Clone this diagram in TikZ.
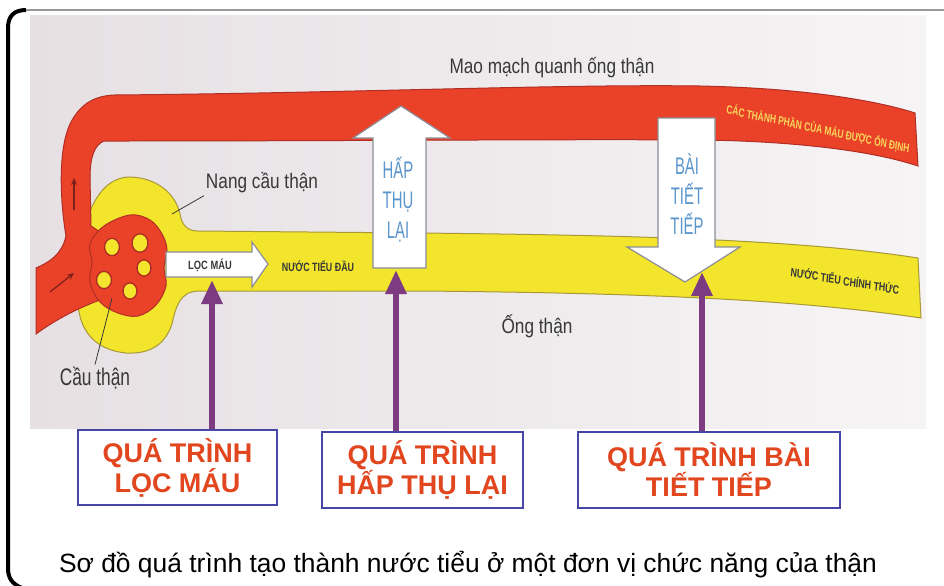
\documentclass[tikz,border=0pt]{standalone}
\usepackage{fontspec}
\setmainfont{Liberation Sans}
\usetikzlibrary{arrows.meta}

\definecolor{blood}{HTML}{EA4229}
\definecolor{bloodline}{HTML}{B02E26}
\definecolor{urine}{HTML}{F2E52C}
\definecolor{urineline}{HTML}{A8983A}
\definecolor{paper}{HTML}{E6E0E3}
\definecolor{paperlight}{HTML}{F6F4F5}
\definecolor{procred}{HTML}{E2461F}
\definecolor{procframe}{HTML}{4646A6}
\definecolor{tractpurple}{HTML}{7D3B82}
\definecolor{skyink}{HTML}{5A95CC}
\definecolor{labelink}{HTML}{383838}
\definecolor{bandtext}{HTML}{F7D55A}
\definecolor{arrowedge}{HTML}{8C8C98}

\tikzset{
  font=\fontsize{10.5}{12.5}\selectfont,
  %
  procbox/.style={
    draw=procframe, line width=1pt, fill=white, align=center, text=procred,
    font=\bfseries\fontsize{13.5}{15}\selectfont, inner sep=0pt,
  },
  lbl/.style={text=labelink, inner sep=1pt, xscale=.82},
  caps/.style={font=\bfseries\fontsize{6}{7}\selectfont, text=labelink,
               inner sep=1pt, xscale=.74},
  skytxt/.style={font=\fontsize{12}{15}\selectfont, text=skyink,
                 align=center, inner sep=0pt, xscale=.62},
  %
  vessel/.style={fill=blood, draw=bloodline, line width=.5pt},
  tubule/.style={fill=urine, draw=urineline, line width=.5pt},
  bigarrow/.style={fill=white, draw=arrowedge, line width=.6pt},
  tract/.style={draw=tractpurple, line width=3pt,
                -{Triangle[length=12pt, width=10pt]}},
  leader/.style={draw=labelink, line width=.4pt},
  flowmark/.style={draw=bloodline!70!black, line width=.6pt,
                   -{Stealth[length=3.5pt, width=3pt]}},
}

\begin{document}
\begin{tikzpicture}[x=0.5pt, y=-0.5pt]
\useasboundingbox (0,0) rectangle (944,585);

% --- page and photo background
\fill[white] (0,0) rectangle (944,585);
\shade[left color=paper, right color=paperlight] (30,15) rectangle (926,428);
\draw[gray!80, line width=1pt] (944,10) -- (26,10);
\draw[black, line width=2pt] (26,10) .. controls (14,10) and (8,16) .. (8,28)
  -- (8,568) .. controls (8,578) and (12,584) .. (22,588);

% --- nephron: capsule + tubule
\path[tubule] (128,177) .. controls (158,177) and (176,195) .. (180,214)
  .. controls (182,226) and (188,231) .. (198,231)
  -- (420,233)
  .. controls (600,235) and (790,238) .. (918,258)
  -- (921,318)
  .. controls (800,300) and (650,293) .. (420,291)
  -- (198,291)
  .. controls (180,292) and (176,306) .. (172,324)
  .. controls (164,348) and (146,354) .. (126,353)
  .. controls (96,350) and (80,332) .. (78,304)
  .. controls (76,250) and (86,180) .. (128,177) -- cycle;

% --- afferent, efferent and peritubular capillary
\path[vessel] (36,334) -- (36,268)
  .. controls (50,262) and (62,254) .. (66,236)
  .. controls (60,200) and (58,150) .. (70,124)
  .. controls (80,104) and (94,96) .. (114,95)
  .. controls (350,93) and (560,84) .. (700,86)
  .. controls (800,88) and (875,100) .. (915,113)
  -- (918,166)
  .. controls (870,150) and (790,141) .. (700,140)
  .. controls (560,139) and (350,141) .. (104,141)
  .. controls (94,145) and (90,158) .. (90,178)
  -- (91,226) -- (112,240) -- (100,300)
  .. controls (78,308) and (55,320) .. (36,334) -- cycle;

% --- glomerulus
\path[vessel] plot[smooth cycle, tension=.6] coordinates {
  (130,215) (150,220) (162,234) (167,250) (164,268) (166,286)
  (156,305) (138,316) (118,313) (100,302) (90,282) (92,262)
  (90,244) (104,226)};
\foreach \gx/\gy/\gr in {112/247/7.5, 140/243/8, 144/268/7, 104/280/7.5, 130/291/7}
  \path[tubule, draw=bloodline, line width=.7pt]
    (\gx,\gy) circle[x radius=\gr*0.5pt, y radius=\gr*0.58pt];
\draw[flowmark] (74,210) -- (74,178);
\draw[flowmark] (50,292) -- (74,273);

% --- big white arrows
\path[bigarrow] (166,252) -- (252,252) -- (252,242) -- (268,264)
  -- (252,287) -- (252,277) -- (166,277) -- cycle;
\path[bigarrow] (373,268) -- (373,138) -- (353,138) -- (401,106)
  -- (450,138) -- (426,138) -- (426,268) -- cycle;
\path[bigarrow] (658,118) -- (715,118) -- (715,247) -- (740,247)
  -- (685,282) -- (627,247) -- (658,247) -- cycle;

% --- labels on the drawing
\node[caps, xscale=1.05] (locmau) at (210,265) {LỌC MÁU};
\node[caps] (ntdau) at (318,266) {NƯỚC TIỂU ĐẦU};
\node[caps, rotate=-7] (ntct) at (845,280) {NƯỚC TIỂU CHÍNH THỨC};
\node[caps, text=bandtext, rotate=-9, xscale=.95] (giulai) at (818,129)
  {CÁC THÀNH PHẦN CỦA MÁU ĐƯỢC ỔN ĐỊNH};
\node[skytxt] (hapthu) at (398,200) {HẤP\\THỤ\\LẠI};
\node[skytxt] (baitiet) at (687,194) {BÀI\\TIẾT\\TIẾP};

\node[lbl] (mao) at (552,68) {Mao mạch quanh ống thận};
\node[lbl] (nang) at (262,183) {Nang cầu thận};
\node[lbl, font=\fontsize{12}{14}\selectfont, xscale=.88] (cau) at (95,378) {Cầu thận};
\node[lbl] (ong) at (537,326) {Ống thận};

\coordinate (capsulept) at (172,214);
\coordinate (glompt) at (112,298);
\draw[leader] (nang.south west) -- (capsulept);
\draw[leader] (cau.north) -- (glompt);

% --- process boxes
\node[procbox, minimum width=99.5pt, minimum height=37.5pt] (filtbox)
  at (177.5,467.5) {QUÁ TRÌNH\\LỌC MÁU};
\node[procbox, minimum width=100.5pt, minimum height=38pt] (reabbox)
  at (422.5,470) {QUÁ TRÌNH\\HẤP THỤ LẠI};
\node[procbox, minimum width=131pt, minimum height=38pt] (secrbox)
  at (709,470) {QUÁ TRÌNH BÀI\\TIẾT TIẾP};

\coordinate (tipfilt) at (212,280);
\coordinate (tipreab) at (396,270);
\coordinate (tipsecr) at (702,272);
\draw[tract] (filtbox.north -| tipfilt) -- (tipfilt);
\draw[tract] (reabbox.north -| tipreab) -- (tipreab);
\draw[tract] (secrbox.north -| tipsecr) -- (tipsecr);

\node[font=\fontsize{13.2}{15}\selectfont, text=black] (caption) at (468,565)
  {Sơ đồ quá trình tạo thành nước tiểu ở một đơn vị chức năng của thận};

\end{tikzpicture}
\end{document}
